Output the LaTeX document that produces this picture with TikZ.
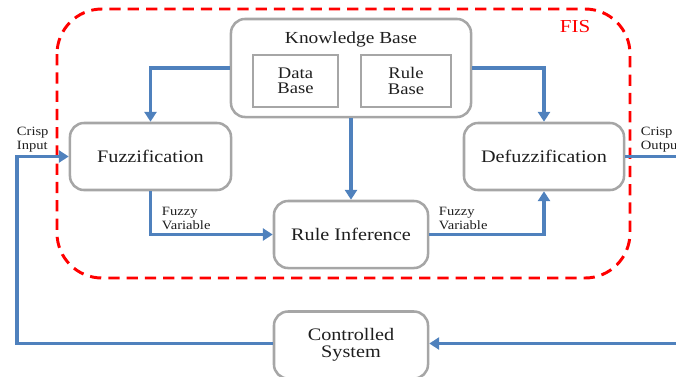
\documentclass[tikz,border=0pt]{standalone}
\usepackage{fontspec}
\setmainfont{Liberation Serif}[FakeStretch=1.15]
\usepackage{tikz}
\usetikzlibrary{arrows.meta,positioning,calc}
\definecolor{flowblue}{RGB}{79,129,189}
\definecolor{boxgray}{RGB}{166,166,166}
\definecolor{txtgray}{RGB}{30,30,30}

\begin{document}
\begin{tikzpicture}[x=0.025cm,y=-0.025cm,
    box/.style={rectangle,draw=boxgray,line width=1.8pt,rounded corners=10pt,align=center,text=txtgray,
      minimum height=1.675cm,font=\fontsize{12.5}{12}\selectfont},
    inbox/.style={rectangle,draw=boxgray,line width=1.8pt,align=center,text=txtgray,
      minimum height=1.3cm,font=\fontsize{11.5}{11}\selectfont},
    flow/.style={draw=flowblue,line width=2.4pt,-{Triangle[width=8.5pt,length=7pt]}},
    note/.style={align=left,anchor=west,text=txtgray,font=\fontsize{9}{10}\selectfont}]

    \useasboundingbox (0,0) rectangle (676,376);

    % FIS frame
    \draw[red,line width=2.1pt,dash pattern=on 8pt off 5pt,rounded corners=32pt] (57,9) rectangle (630,278);
    \node[text=red,font=\fontsize{13}{13}\selectfont] (fis) at (575,27) {FIS};

    \node[box,minimum width=6cm,minimum height=2.45cm] (kb) at (351,68) {};
    \node[text=txtgray,font=\fontsize{12}{12}\selectfont] (kbtitle) at (351,39) {Knowledge Base};
    \node[inbox,minimum width=2.125cm] (db) at (295.5,81) {Data\\Base};
    \node[inbox,minimum width=2.25cm] (rb) at (406,81) {Rule\\Base};

    \node[box,minimum width=4.025cm] (fuzz) at (150.5,156.5) {Fuzzification};
    \node[box,minimum width=4cm] (defuzz) at (544,156.5) {Defuzzification};
    \node[box,minimum width=3.85cm] (ri) at (351,234.5) {Rule Inference};
    \node[box,minimum width=3.85cm] (cs) at (351,345) {Controlled\\System};

    \coordinate (out) at (682,156.5);
    \coordinate (fb) at (682,343.5);
    \coordinate (loop) at (17,156.5);

    \draw[flow] (kb.west) -| (fuzz.north);
    \draw[flow] (kb.east) -| (defuzz.north);
    \draw[flow] (kb.south) -- (ri.north);
    \draw[flow] (fuzz.south) |- (ri.west);
    \draw[flow] (ri.east) -| (defuzz.south);
    \draw[flow,-] (defuzz.east) -- (out);
    \draw[flow] (fb) -- (cs.east |- fb);
    \draw[flow] (cs.west |- fb) -| (loop) -- (fuzz.west);

    % Annotations
    \node[note] (cin) at (12,140) {Crisp\\Input};
    \node[note] (cout) at (636,140) {Crisp\\Output};
    \node[note] (fv1) at (157,218) {Fuzzy\\Variable};
    \node[note] (fv2) at (434,218) {Fuzzy\\Variable};
\end{tikzpicture}
\end{document}
